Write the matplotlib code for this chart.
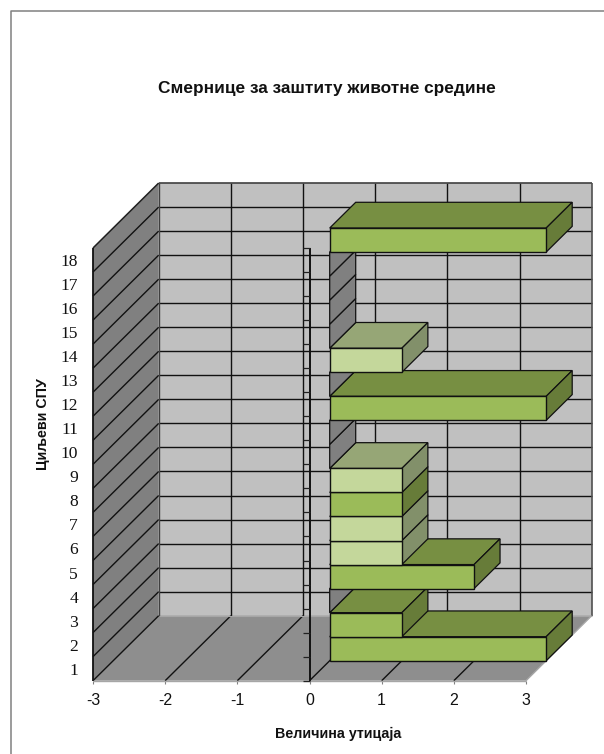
import matplotlib
matplotlib.use("Agg")
import matplotlib.pyplot as plt
from matplotlib.patches import Polygon

W, H = 604, 754
TITLE = "Смернице за заштиту животне средине"
XLABEL = "Величина утицаја"
YLABEL = "Циљеви СПУ"
categories = list(range(1, 19))
values = [3, 1, 0, 2, 1, 1, 1, 1, 0, 0, 3, 0, 1, 0, 0, 0, 0, 3]
shade = ["d", "d", "d", "d", "l", "l", "d", "l", "d", "d", "d", "d", "l", "d", "d", "d", "d", "d"]
x_ticks = [-3, -2, -1, 0, 1, 2, 3]

COLORS = {"d": ("#9BBB59", "#778F42", "#677C39"), "l": ("#C4D79B", "#96A676", "#82906A")}
WALL, SIDE, FLOOR = "#C0C0C0", "#808080", "#8E8E8E"
EDGE = "#111111"

plt.rcParams["font.family"] = ["Liberation Sans", "DejaVu Sans"]
fig = plt.figure(figsize=(W / 100, H / 100), dpi=100)

# figure border (top and left)
fig.add_artist(plt.Line2D([10.5 / W, 10.5 / W, 1], [0, 1 - 10.5 / H, 1 - 10.5 / H],
                          color="#808080", lw=1.1, transform=fig.transFigure))

LEFT, RIGHT, TOP, BOTTOM = 93.0, 526.0, 248.0, 680.7
ax = fig.add_axes([LEFT / W, 1 - BOTTOM / H, (RIGHT - LEFT) / W, (BOTTOM - TOP) / H])
ax.set_xlim(-3, 3)
ax.set_ylim(0, 18)
ax.patch.set_visible(False)
for s in ax.spines.values():
    s.set_visible(False)

PX = (RIGHT - LEFT) / 6
PY = (BOTTOM - TOP) / 18
DX = 65.7 / PX   # full chart depth, data units
DY = 65.0 / PY
D0, D1 = 20.2 / 65.7, 46.2 / 65.7  # bar depth range


def P(x, y, d=0.0):
    return (x + d * DX, y + d * DY)


def poly(pts, fc, ec="none", lw=0.0, z=1):
    ax.add_patch(Polygon(pts, closed=True, fc=fc, ec=ec, lw=lw, zorder=z, clip_on=False,
                         joinstyle="miter"))


def line(a, b, c=EDGE, lw=1.0, z=2):
    ax.plot([a[0], b[0]], [a[1], b[1]], color=c, lw=lw, zorder=z, clip_on=False,
            solid_capstyle="butt")


# walls
poly([P(-3, 0, 1), P(3, 0, 1), P(3, 18, 1), P(-3, 18, 1)], WALL)
poly([P(-3, 0), P(-3, 0, 1), P(-3, 18, 1), P(-3, 18)], SIDE)
poly([P(-3, 0), P(3, 0), P(3, 0, 1), P(-3, 0, 1)], FLOOR)

# gridlines
for y in range(1, 18):
    line(P(-3, y, 1), P(3, y, 1))
    line(P(-3, y), P(-3, y, 1))
for x in x_ticks[1:-1]:
    line(P(x, 0, 1), P(x, 18, 1))
    line(P(x, 0), P(x, 0, 1))
# frame
line(P(-3, 18, 1), P(3, 18, 1), "#404040", 1.2)
line(P(3, 0, 1), P(3, 18, 1), "#505050", 1.2)
line(P(-3, 0, 1), P(-3, 18, 1), "#404040", 1.0)
line(P(-3, 18), P(-3, 18, 1), "#202020", 1.1)
line(P(-3, 0), P(-3, 18), "#111111", 1.3)
line(P(-3, 0), P(-3, 0, 1), "#111111", 1.0)
line(P(-3, 0, 1), P(3, 0, 1), "#A6A6A6", 0.8)
line(P(-3, 0), P(3, 0), "#A6A6A6", 1.0)
line(P(3, 0), P(3, 0, 1), "#A6A6A6", 1.0)

# zero-axis line with tick marks
line(P(0, 0), P(0, 18), "#111111", 1.4, 3)
ax.set_xticks(x_ticks)
ax.set_xticklabels([str(v) for v in x_ticks], fontsize=11.5, color="#111111")
ax.set_yticks([c - 0.5 for c in categories])
ax.set_yticklabels([str(c) for c in categories], fontsize=12.6, family="Liberation Serif",
                   color="#111111")
ax.tick_params(axis="x", length=2, width=0.8, color="#808080", pad=7)
ax.tick_params(axis="y", length=0, pad=10.8)
for y in range(0, 19):
    ax.plot([-6.2 / PX, 0], [y, y], color="#222222", lw=0.9, zorder=3,
            clip_on=False, solid_capstyle="butt")

# bars: upper rows are drawn last, so they cover the tops of the rows below
for i, v in enumerate(values):
    y0 = float(i)
    y1 = y0 + 1
    z = 5 + i * 0.01
    front, top, side = COLORS[shade[i]]
    if v == 0:
        poly([P(0, y0, D0), P(0, y0, D1), P(0, y1, D1), P(0, y1, D0)], SIDE, EDGE, 0.9, z)
    else:
        poly([P(0, y1, D0), P(v, y1, D0), P(v, y1, D1), P(0, y1, D1)], top, EDGE, 0.9, z)
        poly([P(v, y0, D0), P(v, y0, D1), P(v, y1, D1), P(v, y1, D0)], side, EDGE, 0.9, z)
        poly([P(0, y0, D0), P(v, y0, D0), P(v, y1, D0), P(0, y1, D0)], front, EDGE, 1.0, z + 0.001)

# titles
fig.text(327 / W, 1 - 88 / H, TITLE, ha="center", va="center", fontsize=12.4, fontweight="bold",
         color="#111111")
fig.text(338 / W, 1 - 733.5 / H, XLABEL, ha="center", va="center", fontsize=10.3, fontweight="bold",
         color="#111111")
fig.text(42.5 / W, 1 - 424 / H, YLABEL, ha="center", va="center", rotation=90, fontsize=10.3,
         fontweight="bold", color="#111111")

fig.savefig("out.png", dpi=100, facecolor="white")
